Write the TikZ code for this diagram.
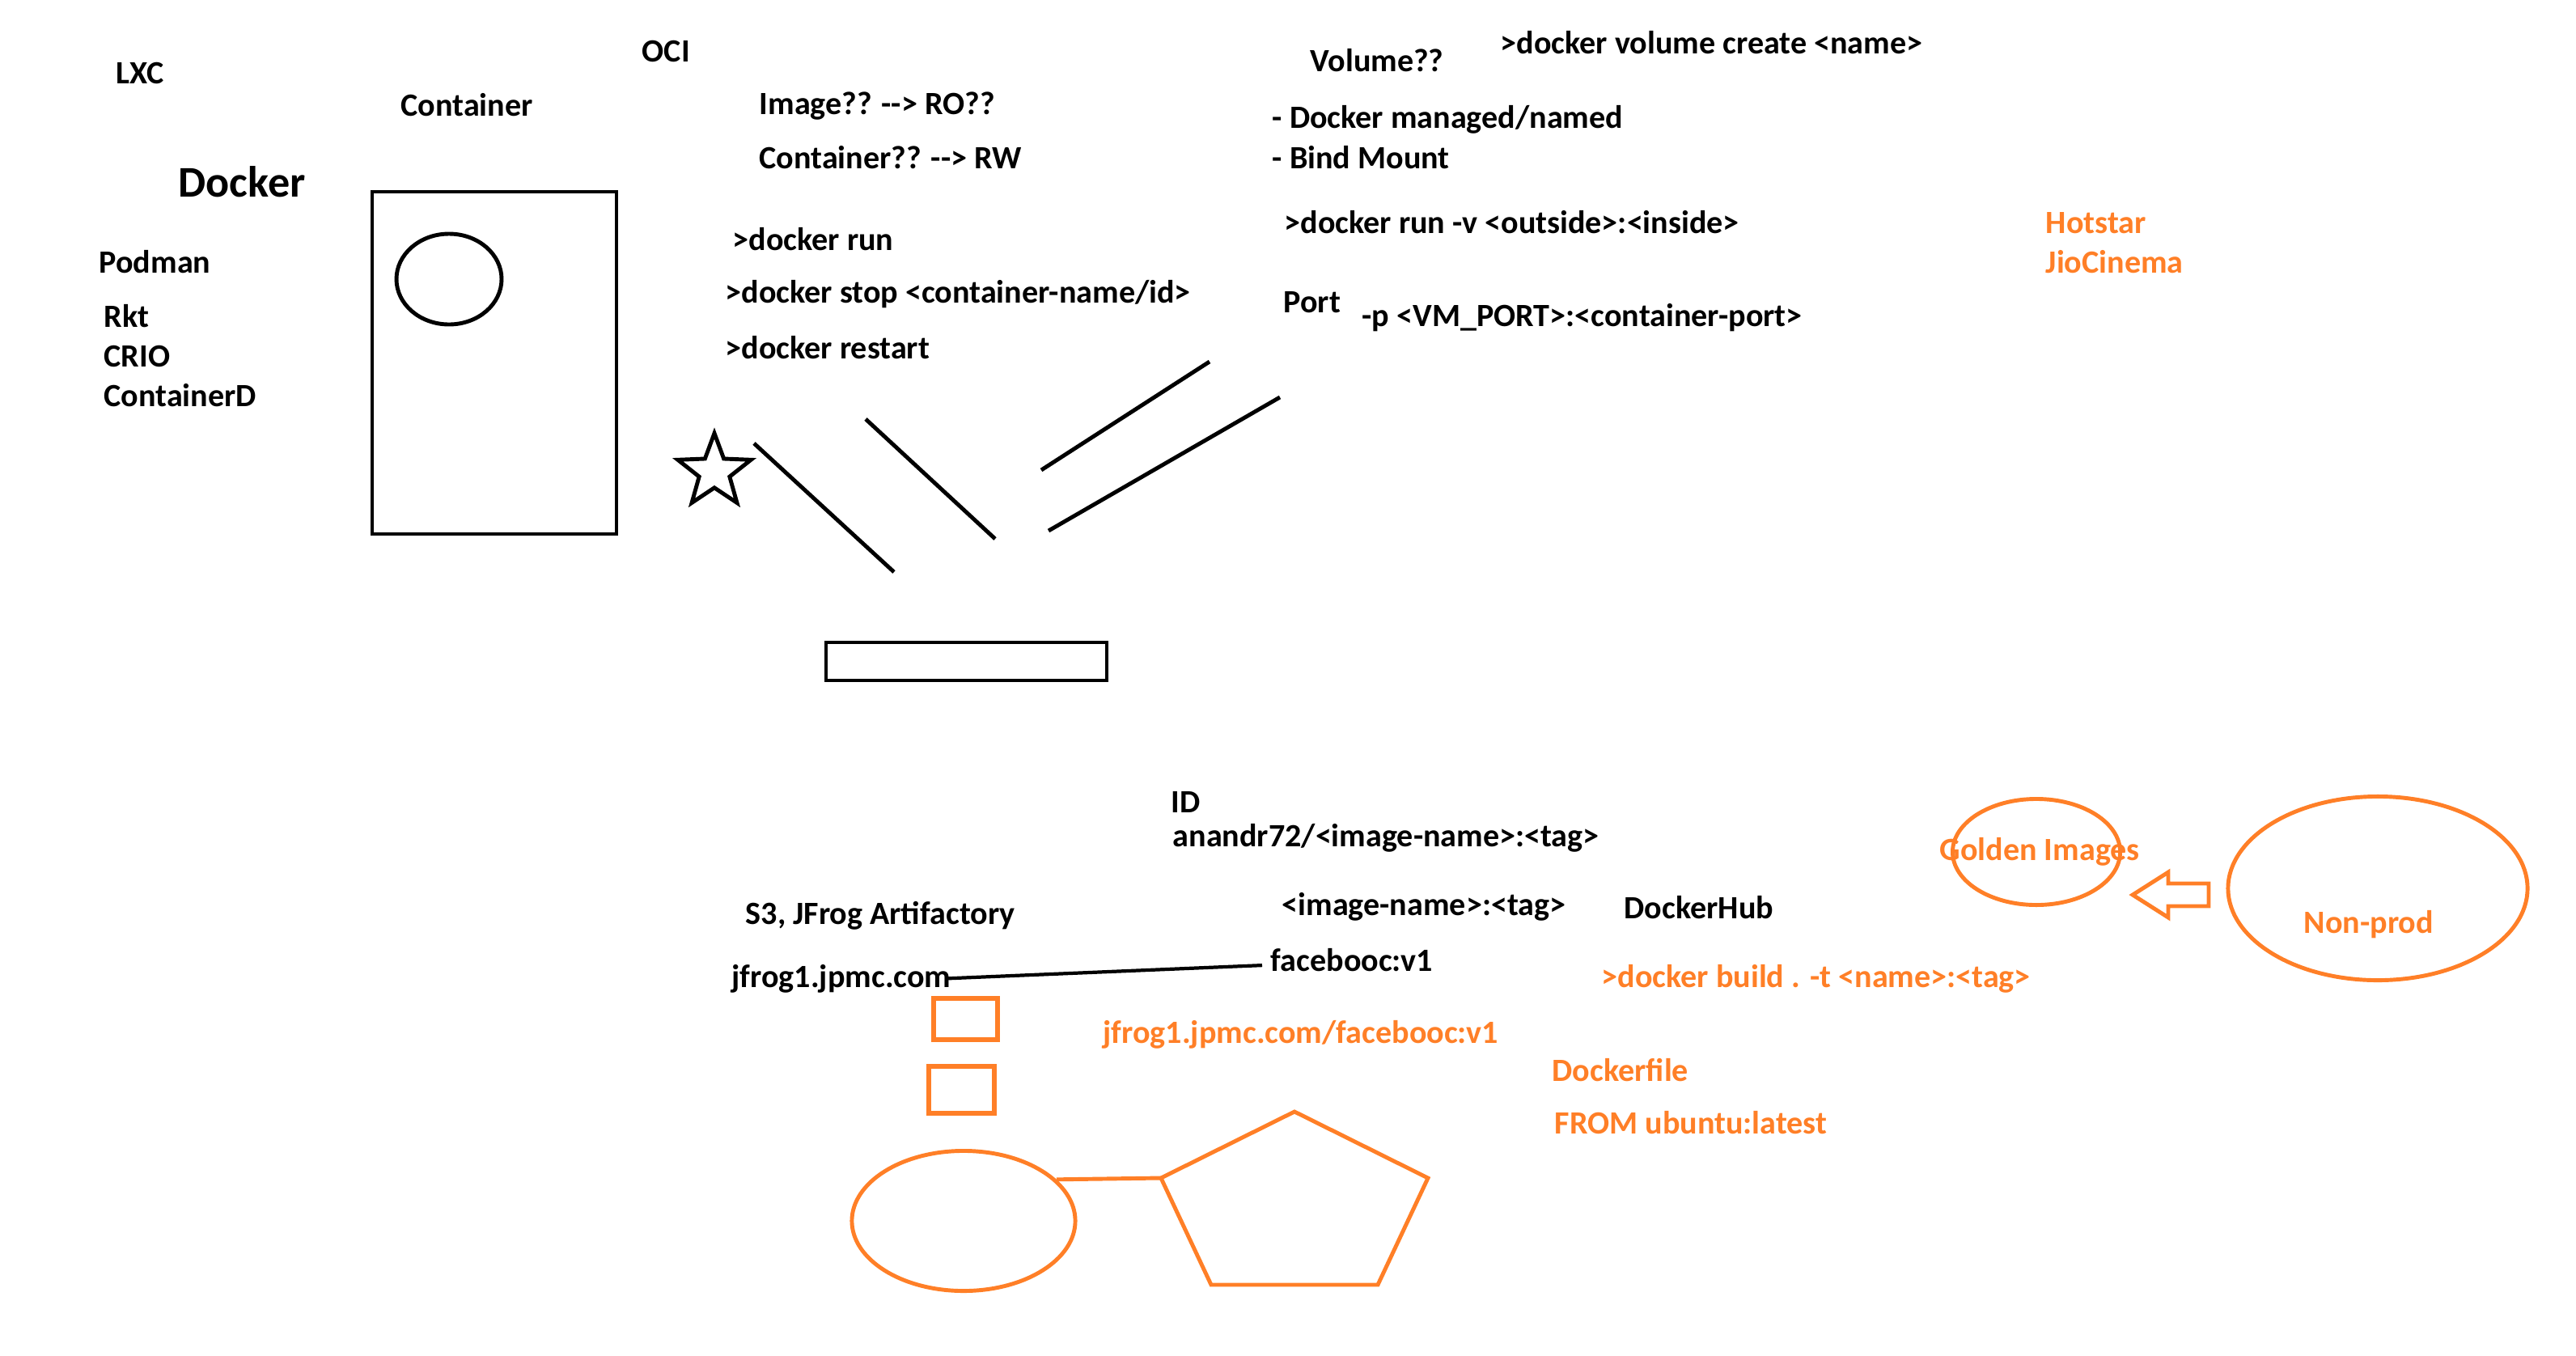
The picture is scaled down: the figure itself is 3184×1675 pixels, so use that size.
\documentclass[tikz,border=0pt]{standalone}
\usepackage{fontspec}
\setmainfont{Carlito}
\usetikzlibrary{shapes.geometric}
\definecolor{paintorange}{RGB}{255,127,39}

\begin{document}
\begin{tikzpicture}[x=0.01cm,y=-0.01cm,
	txt/.style={anchor=base west,inner sep=0pt,font=\fontsize{11.4}{13}\selectfont\bfseries},
	otxt/.style={txt,text=paintorange},
	ink/.style={line width=1.4pt},
	oink/.style={line width=1.4pt,draw=paintorange}]
	\useasboundingbox (0,0) rectangle (3184,1675);

	% left column
	\node[txt] (lxc) at (143,103) {LXC};
	\node[txt] (oci) at (793,76) {OCI};
	\node[txt] (cont) at (495,143) {Container};
	\node[txt,font=\fontsize{15.4}{18}\selectfont\bfseries] (docker) at (220,243) {Docker};
	\node[txt] (podman) at (122,337) {Podman};
	\node[txt] (rkt) at (128,404) {Rkt};
	\node[txt] (crio) at (128,453) {CRIO};
	\node[txt] (ctrd) at (128,502) {ContainerD};
	\draw[ink] (460,237) rectangle (762,660);
	\draw[ink] (555,345) ellipse (65 and 56);

	% commands
	\node[txt] (img) at (938,141) {Image?? -{}-> RO??};
	\node[txt] (ctr) at (938,208) {Container?? -{}-> RW};
	\node[txt] (run) at (905,309) {>docker run};
	\node[txt] (stop) at (896,374) {>docker stop <container-name/id>};
	\node[txt] (restart) at (896,443) {>docker restart};
	\node[txt] (vol) at (1619,88) {Volume??};
	\node[txt] (volc) at (1854,66) {>docker volume create <name>};
	\node[txt] (managed) at (1572,158) {- Docker managed/named};
	\node[txt] (bind) at (1572,208) {- Bind Mount};
	\node[txt] (runv) at (1587,288) {>docker run -v <outside>:<inside>};
	\node[txt] (port) at (1586,386) {Port};
	\node[txt] (portmap) at (1683,403) {-p <VM\_PORT>:<container-port>};
	\node[otxt] (hotstar) at (2528,288) {Hotstar};
	\node[otxt] (jio) at (2528,337) {JioCinema};

	\node[ink,draw,star,star points=5,star point ratio=2.4,minimum size=0.95cm,inner sep=0pt] (star) at (883,583) {};
	\draw[ink] (932,548) -- (1105,707);
	\draw[ink] (1070,518) -- (1230,666);
	\draw[ink] (1287,581) -- (1495,447);
	\draw[ink] (1296,656) -- (1582,491);
	\draw[ink] (1021,794) rectangle (1368,841);

	% registry part
	\node[txt] (id) at (1447,1004) {ID};
	\node[txt] (repo) at (1449,1046) {anandr72/<image-name>:<tag>};
	\node[txt] (s3) at (921,1142) {S3, JFrog Artifactory};
	\node[txt] (imgtag) at (1584,1131) {<image-name>:<tag>};
	\node[txt] (hub) at (2007,1135) {DockerHub};
	\node[txt] (jfrog) at (904,1220) {jfrog1.jpmc.com};
	\node[txt] (fb) at (1570,1200) {facebooc:v1};
	\draw[line width=1.2pt] ([xshift=-0.05cm]jfrog.east) -- ([xshift=-0.1cm,yshift=-0.07cm]fb.west);
	\node[otxt] (build) at (1979,1220) {>docker build . -t <name>:<tag>};
	\node[otxt] (jfb) at (1363,1289) {jfrog1.jpmc.com/facebooc:v1};
	\node[otxt] (dfile) at (1918,1336) {Dockerfile};
	\node[otxt] (from) at (1921,1401) {FROM ubuntu:latest};

	\draw[oink,line width=1.7pt] (1154,1234) rectangle (1233,1285);
	\draw[oink,line width=1.7pt] (1148,1318) rectangle (1229,1376);
	\node[oink,draw,ellipse,minimum width=2.76cm,minimum height=1.73cm,inner sep=0pt] (blob) at (1191,1509) {};
	\coordinate (pentL) at (1435,1456);
	\draw[oink] (1600,1374) -- (1765,1456) -- (1703,1588) -- (1497,1588) -- (pentL) -- cycle;
	\draw[oink] (blob.24) -- (pentL);

	% golden images
	\node[oink,draw,ellipse,minimum width=2.07cm,minimum height=1.31cm,inner sep=0pt] (gold) at (2517,1053) {};
	\node[oink,draw,ellipse,minimum width=3.7cm,minimum height=2.27cm,inner sep=0pt] (np) at (2939,1098) {};
	\node[otxt] (golden) at (2397,1063) {Golden Images};
	\node[otxt] (nonprod) at (2847,1153) {Non-prod};
	\draw[oink] (2636,1106) -- (2680,1078) -- (2680,1092) -- (2730,1092) -- (2730,1120) -- (2680,1120) -- (2680,1134) -- cycle;
\end{tikzpicture}
\end{document}
